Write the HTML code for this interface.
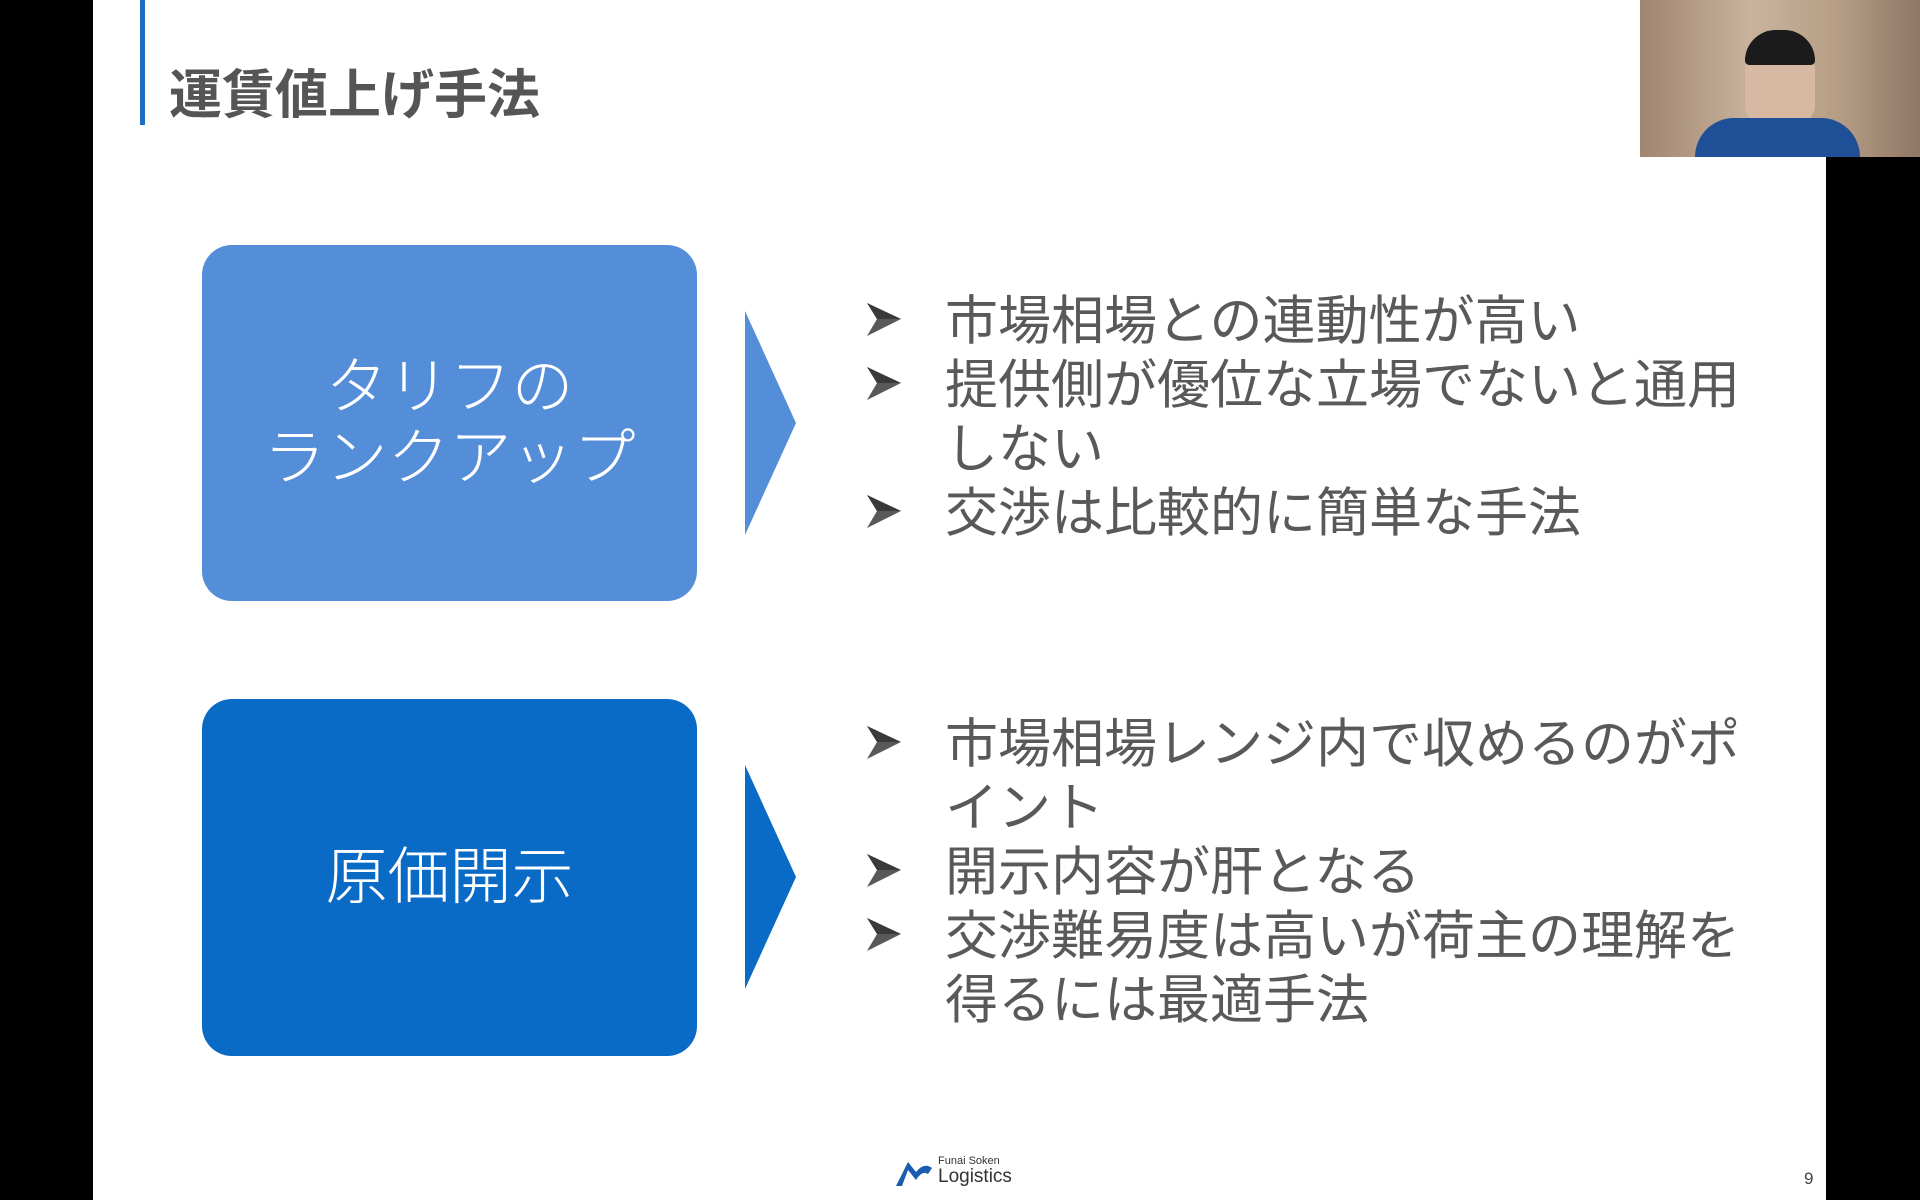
<!DOCTYPE html>
<html><head><meta charset="utf-8"><style>
html,body{margin:0;padding:0;}
body{width:1920px;height:1200px;position:relative;overflow:hidden;background:#fff;font-family:"Liberation Sans","Noto Sans CJK JP",sans-serif;}
.abs{position:absolute;}
.box{position:absolute;left:202px;width:495px;border-radius:30px;color:#fff;display:flex;align-items:center;justify-content:center;text-align:center;font-size:62px;line-height:71px;font-weight:300;}
.b{position:absolute;left:867px;font-size:53px;color:#595959;line-height:64px;white-space:nowrap;}
.b .t{position:absolute;left:78px;top:4px;}
.arr{position:absolute;left:0;top:17px;width:36px;height:34px;}
</style></head><body>
<div class="abs" style="left:0;top:0;width:93px;height:1200px;background:#000"></div>
<div class="abs" style="left:1826px;top:157px;width:94px;height:1043px;background:#000"></div>
<div class="abs" style="left:1640px;top:0;width:280px;height:157px;background:linear-gradient(90deg,#a08570,#c9b39c 40%,#b79e86 70%,#8e7766)"></div>
<div class="abs" style="left:1745px;top:35px;width:70px;height:90px;border-radius:35px 35px 20px 20px;background:#d6b8a3;"></div>
<div class="abs" style="left:1745px;top:30px;width:70px;height:35px;border-radius:35px 35px 5px 5px;background:#1b1b1b;"></div>
<div class="abs" style="left:1695px;top:118px;width:165px;height:39px;border-radius:40px 40px 0 0;background:#1f4f96;"></div>
<div class="abs" style="left:140px;top:0;width:5px;height:125px;background:#1e6fc1"></div>
<div class="abs" style="left:169px;top:64px;font-size:53px;font-weight:bold;color:#555;line-height:64px;">運賃値上げ手法</div>

<div class="box" style="top:245px;height:356px;background:#558ed8;">タリフの<br>ランクアップ</div>
<div class="box" style="top:699px;height:357px;background:#0a6bc6;">原価開示</div>

<svg class="abs" style="left:745px;top:311px" width="52" height="225"><polygon points="0,0 51,112 0,224" fill="#558ed8"/></svg>
<svg class="abs" style="left:745px;top:765px" width="52" height="225"><polygon points="0,0 51,112 0,224" fill="#0a6bc6"/></svg>

<svg width="0" height="0" style="position:absolute"><defs><g id="ar"><polygon points="0,0 34,16 0,33 10,16" fill="#595959"/><polygon points="0,0 34,16 10,16" fill="#3a3a3a"/></g></defs></svg>

<div class="b" style="top:286px"><svg class="arr"><use href="#ar"/></svg><span class="t">市場相場との連動性が高い</span></div>
<div class="b" style="top:350px"><svg class="arr"><use href="#ar"/></svg><span class="t">提供側が優位な立場でないと通用</span></div>
<div class="b" style="top:414px"><span class="t">しない</span></div>
<div class="b" style="top:478px"><svg class="arr"><use href="#ar"/></svg><span class="t">交渉は比較的に簡単な手法</span></div>

<div class="b" style="top:709px"><svg class="arr"><use href="#ar"/></svg><span class="t">市場相場レンジ内で収めるのがポ</span></div>
<div class="b" style="top:773px"><span class="t">イント</span></div>
<div class="b" style="top:837px"><svg class="arr"><use href="#ar"/></svg><span class="t">開示内容が肝となる</span></div>
<div class="b" style="top:901px"><svg class="arr"><use href="#ar"/></svg><span class="t">交渉難易度は高いが荷主の理解を</span></div>
<div class="b" style="top:965px"><span class="t">得るには最適手法</span></div>

<svg class="abs" style="left:894px;top:1158px" width="40" height="30"><path d="M2,28 L14,4 L22,14 Q30,4 38,10 L34,16 Q28,12 22,22 L14,12 L8,28Z" fill="#1a5cb0"/></svg>
<div class="abs" style="left:938px;top:1155px;font-size:11px;color:#333;line-height:12px;">Funai Soken</div>
<div class="abs" style="left:938px;top:1166px;font-size:19px;color:#333;line-height:22px;">Logistics</div>
<div class="abs" style="left:1804px;top:1169px;font-size:17px;color:#444;">9</div>
</body></html>
